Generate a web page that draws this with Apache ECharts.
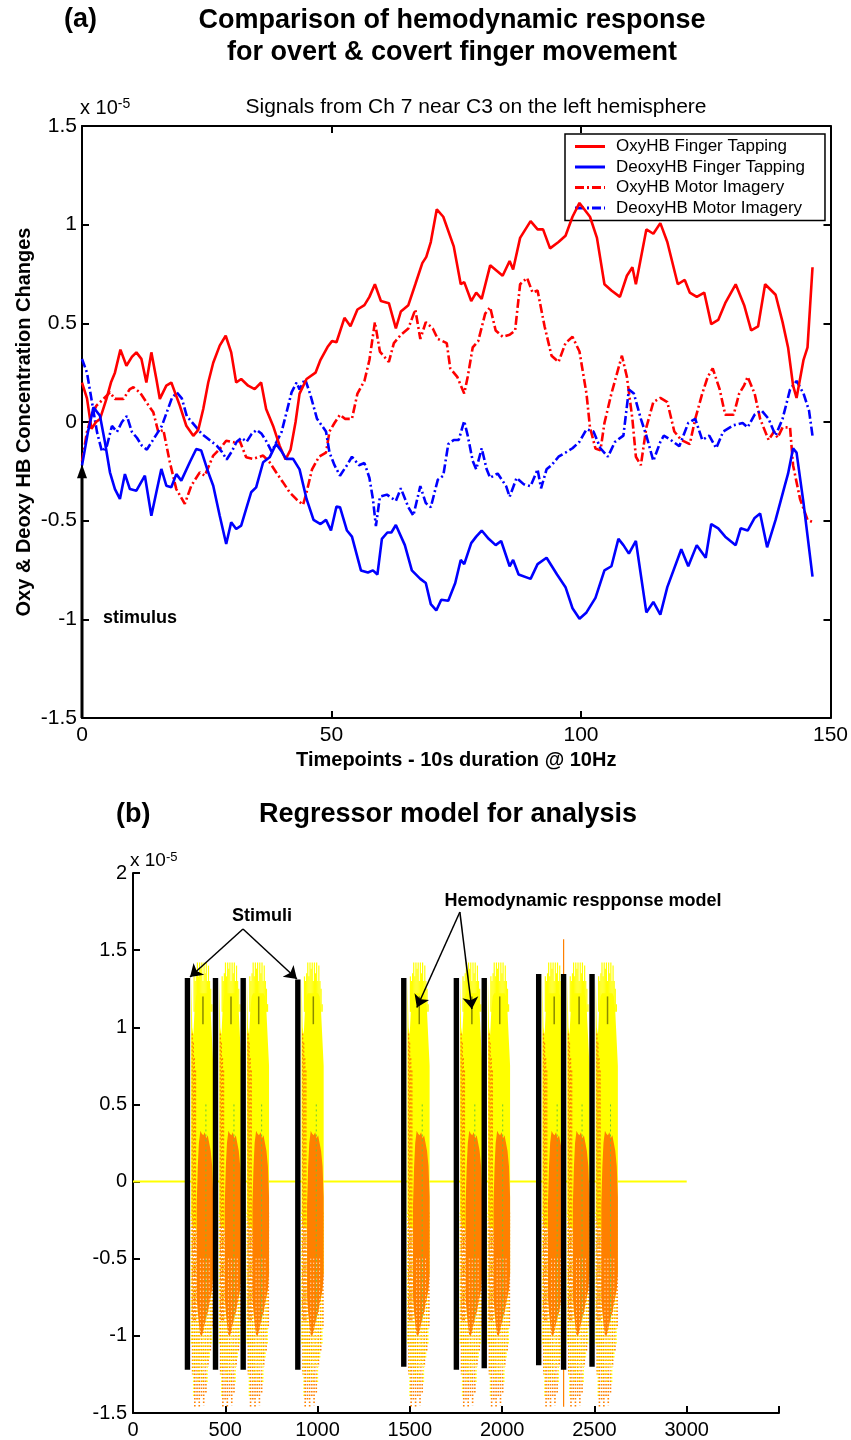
<!DOCTYPE html>
<html>
<head>
<meta charset="utf-8">
<title>Hemodynamic response</title>
<script src="https://cdn.jsdelivr.net/npm/echarts@6.0.0/dist/echarts.min.js"></script>
<style>
html, body { margin: 0; padding: 0; background: #fff; }
#chart { width: 851px; height: 1440px; }
</style>
</head>
<body>
<div id="chart"></div>
<script>
// ---- panel (a): signals from Ch 7, values x 1e-5, [timepoint, value]
const seriesNames = ['OxyHB Finger Tapping', 'DeoxyHB Finger Tapping', 'OxyHB Motor Imagery', 'DeoxyHB Motor Imagery'];

const oxyTapping = [[0,0.2],[0.4,0.2],[1,0.12],[1.9,-0.035],[2.8,0.0],[3.6,0.015],[4.9,0.117],[5.8,0.2],[6.6,0.25],[7.7,0.367],[8.9,0.285],[10,0.33],[10.9,0.353],[11.9,0.32],[12.9,0.2],[13.9,0.353],[14.9,0.218],[15.6,0.117],[16.9,0.184],[17.9,0.2],[19.6,0.083],[20.9,-0.019],[22.3,-0.07],[23.3,-0.04],[24.3,0.066],[25.3,0.2],[26.3,0.3],[27.6,0.387],[28.8,0.437],[29.9,0.353],[30.9,0.2],[31.9,0.218],[33.3,0.184],[34.6,0.167],[35.9,0.2],[36.9,0.066],[38.3,-0.02],[39.6,-0.12],[40.8,-0.19],[41.8,-0.14],[42.8,0.0],[43.6,0.144],[45.0,0.218],[46.8,0.25],[47.8,0.315],[49.2,0.38],[50.1,0.41],[51.0,0.404],[52.6,0.528],[53.8,0.485],[55.2,0.57],[56.6,0.592],[57.6,0.634],[58.7,0.698],[59.9,0.613],[61.5,0.602],[62.9,0.474],[63.9,0.56],[65.4,0.592],[66.8,0.698],[68.2,0.805],[69.0,0.837],[69.9,0.912],[71.1,1.078],[72.4,1.04],[74.5,0.89],[75.9,0.698],[76.6,0.709],[78.0,0.613],[79.0,0.656],[80.1,0.624],[81.8,0.794],[84.3,0.741],[85.7,0.816],[86.4,0.773],[87.8,0.933],[89.9,1.018],[91.3,0.976],[92.4,0.976],[93.8,0.88],[95.5,0.912],[96.9,0.944],[98.3,1.04],[99.7,1.11],[101.8,1.04],[103.2,0.933],[104.7,0.698],[106.1,0.666],[107.8,0.634],[109.2,0.741],[110.3,0.784],[111.0,0.698],[113.1,0.976],[114.5,0.954],[115.9,1.008],[117.3,0.912],[119.4,0.698],[120.8,0.72],[121.8,0.656],[123.2,0.634],[124.7,0.656],[126.1,0.496],[127.5,0.517],[128.9,0.602],[131.0,0.698],[132.7,0.592],[134.1,0.464],[135.5,0.485],[136.9,0.698],[139.0,0.645],[140.4,0.506],[141.5,0.378],[142.5,0.186],[143.2,0.122],[144.6,0.315],[145.4,0.378],[146.4,0.784]];

const deoxyTapping = [[0,-0.22],[0.3,-0.22],[1.2,-0.05],[2.3,0.074],[3.6,0.032],[4.6,-0.103],[5.6,-0.255],[6.6,-0.34],[7.6,-0.39],[8.6,-0.264],[9.6,-0.34],[10.9,-0.348],[12.6,-0.272],[13.9,-0.475],[14.9,-0.356],[15.9,-0.238],[16.9,-0.323],[17.9,-0.331],[18.9,-0.264],[19.9,-0.297],[21.6,-0.204],[22.9,-0.137],[23.9,-0.145],[25.3,-0.255],[26.3,-0.323],[27.6,-0.475],[28.9,-0.618],[29.9,-0.508],[30.9,-0.542],[31.9,-0.525],[32.9,-0.44],[33.9,-0.356],[34.9,-0.331],[36.3,-0.204],[37.6,-0.179],[38.9,-0.111],[39.9,-0.145],[40.9,-0.187],[42.3,-0.187],[43.6,-0.24],[45.0,-0.39],[46.4,-0.496],[47.8,-0.517],[48.9,-0.496],[49.9,-0.55],[51.0,-0.428],[51.7,-0.432],[53.1,-0.55],[54.1,-0.581],[55.9,-0.752],[57.3,-0.763],[58.3,-0.752],[59.2,-0.773],[60.1,-0.592],[61.2,-0.56],[62.0,-0.56],[62.9,-0.522],[64.7,-0.624],[66.1,-0.752],[67.8,-0.795],[68.9,-0.816],[69.9,-0.923],[71.0,-0.955],[72.0,-0.901],[73.4,-0.906],[74.8,-0.816],[75.9,-0.699],[76.6,-0.72],[78.0,-0.614],[79.0,-0.581],[80.1,-0.55],[81.5,-0.592],[82.9,-0.624],[84.0,-0.603],[85.7,-0.731],[86.4,-0.699],[87.5,-0.773],[89.9,-0.795],[91.3,-0.72],[93.1,-0.688],[95.2,-0.773],[96.9,-0.837],[98.3,-0.944],[99.7,-0.997],[101.1,-0.965],[102.9,-0.891],[104.7,-0.752],[106.1,-0.731],[107.5,-0.592],[108.5,-0.624],[109.6,-0.667],[111.0,-0.603],[113.1,-0.965],[114.5,-0.912],[115.9,-0.976],[117.3,-0.837],[120.1,-0.645],[121.5,-0.731],[123.2,-0.624],[125.0,-0.688],[126.1,-0.517],[127.5,-0.539],[128.9,-0.581],[131.0,-0.624],[132.0,-0.539],[133.4,-0.55],[134.8,-0.486],[135.9,-0.464],[137.3,-0.635],[139.0,-0.496],[140.8,-0.326],[141.5,-0.262],[142.5,-0.134],[143.2,-0.155],[144.6,-0.411],[146.4,-0.784]];

const oxyImagery = [[0,-0.2],[1,-0.05],[1.9,0.032],[2.9,0.083],[4.3,0.117],[5.6,0.15],[6.6,0.117],[8.3,0.117],[9.6,0.167],[10.3,0.176],[11.6,0.15],[12.9,0.1],[14.3,0.049],[15.3,-0.052],[16.3,-0.04],[17.6,-0.204],[18.9,-0.34],[20.6,-0.415],[21.9,-0.323],[23.6,-0.255],[24.6,-0.272],[26.3,-0.17],[27.6,-0.137],[28.9,-0.095],[30.3,-0.103],[31.6,-0.095],[32.9,-0.179],[34.3,-0.187],[36.3,-0.17],[37.6,-0.204],[38.9,-0.255],[40.3,-0.306],[41.6,-0.356],[42.9,-0.39],[44.3,-0.42],[45.0,-0.357],[46.1,-0.24],[47.5,-0.176],[48.9,-0.155],[49.6,-0.048],[50.6,-0.005],[51.7,0.037],[52.7,0.016],[54.1,0.016],[55.2,0.144],[56.6,0.208],[57.6,0.314],[58.7,0.506],[59.7,0.357],[61.5,0.304],[62.5,0.4],[63.9,0.442],[65.4,0.474],[66.8,0.57],[67.8,0.421],[68.9,0.506],[70.3,0.474],[71.3,0.421],[73.1,0.4],[73.8,0.272],[75.2,0.229],[76.6,0.144],[77.3,0.229],[78.3,0.378],[79.4,0.41],[80.8,0.549],[81.8,0.581],[82.9,0.464],[84.3,0.432],[85.7,0.442],[86.8,0.464],[87.8,0.698],[89.2,0.73],[90.3,0.656],[91.3,0.666],[92.7,0.485],[94.1,0.336],[95.5,0.304],[96.9,0.4],[98.3,0.432],[99.7,0.357],[101.1,0.144],[101.8,-0.027],[102.9,-0.134],[103.9,-0.144],[104.7,-0.005],[106.1,0.144],[108.2,0.336],[109.2,0.229],[110.3,0.016],[111.0,-0.176],[112.0,-0.219],[113.1,-0.027],[114.5,0.101],[115.9,0.122],[117.3,0.101],[118.7,-0.048],[120.1,-0.091],[121.8,-0.112],[122.9,0.016],[124.3,0.144],[125.4,0.229],[126.4,0.272],[127.8,0.165],[128.9,0.037],[130.6,0.037],[131.7,0.144],[132.7,0.186],[133.4,0.229],[134.8,0.144],[135.9,0.016],[137.6,-0.091],[138.7,-0.048],[139.4,-0.08],[140.4,-0.027],[141.9,-0.027],[142.5,-0.219],[143.9,-0.39],[145.4,-0.496],[146.4,-0.507]];

const deoxyImagery = [[0,0.32],[1,0.25],[2,0.1],[3,-0.05],[4,-0.15],[5,-0.12],[6,-0.02],[7,-0.05],[8,0.0],[9,0.03],[10,-0.05],[11,-0.08],[12,-0.12],[13,-0.14],[14,-0.1],[15,-0.06],[16,-0.02],[17,0.05],[18,0.12],[19,0.15],[20,0.12],[21,0.03],[22,0.0],[23,-0.03],[24,-0.06],[25,-0.08],[26,-0.1],[27,-0.12],[28,-0.15],[29,-0.19],[30,-0.15],[31,-0.1],[32,-0.08],[33,-0.1],[34,-0.06],[35,-0.04],[36,-0.06],[37,-0.1],[38,-0.15],[39,-0.1],[40,-0.05],[41,0.05],[42,0.15],[43,0.2],[43.6,0.165],[44.7,0.218],[45.7,0.144],[47.1,0.016],[48.9,-0.048],[49.6,-0.155],[50.6,-0.219],[51.7,-0.272],[53.1,-0.219],[54.1,-0.176],[55.5,-0.219],[56.6,-0.208],[57.6,-0.283],[58.3,-0.39],[58.9,-0.528],[59.7,-0.379],[61.1,-0.368],[62.9,-0.4],[63.9,-0.336],[65.4,-0.432],[66.4,-0.475],[67.8,-0.325],[68.9,-0.411],[69.9,-0.432],[71.3,-0.293],[72.4,-0.272],[73.4,-0.112],[74.5,-0.091],[75.5,-0.091],[76.6,0.005],[77.3,-0.069],[78.3,-0.197],[79.0,-0.24],[80.1,-0.133],[81.1,-0.24],[81.8,-0.283],[83.3,-0.261],[85.0,-0.325],[85.7,-0.379],[87.1,-0.283],[88.5,-0.315],[89.9,-0.325],[91.3,-0.24],[92.0,-0.336],[93.1,-0.24],[94.1,-0.219],[95.5,-0.176],[96.9,-0.155],[98.3,-0.133],[99.7,-0.1],[101.1,-0.037],[102.5,-0.048],[103.9,-0.133],[105.4,-0.176],[106.8,-0.101],[108.5,-0.069],[109.6,0.165],[110.6,0.144],[112.0,0.016],[113.1,-0.069],[114.5,-0.197],[115.9,-0.101],[116.6,-0.069],[118.0,-0.091],[119.7,-0.123],[121.5,-0.005],[122.9,0.016],[124.3,-0.091],[125.7,-0.069],[127.1,-0.133],[128.5,-0.048],[130.6,-0.016],[132.4,-0.005],[133.4,-0.027],[134.8,0.037],[136.2,0.058],[137.6,0.016],[139.0,-0.069],[140.4,0.016],[141.9,0.165],[143.2,0.208],[144.6,0.144],[145.7,0.058],[146.4,-0.07]];

const stimulusArrow = [[0, -1.5], [0, -0.25]];

// ---- panel (b): regressor model
const stimOnsets = [295, 447, 597, 893, 1467, 1752, 1903, 2198, 2333, 2487];
const stimTops = [1.32, 1.32, 1.32, 1.31, 1.32, 1.32, 1.32, 1.345, 1.345, 1.345];
const stimBottoms = [-1.22, -1.22, -1.22, -1.22, -1.2, -1.22, -1.21, -1.19, -1.22, -1.2];
const baselineX = [0, 3000];

// response shape after each onset (offset from onset, value x 1e-5)
const hrfBodyOffsets = [20, 26, 32, 38, 46, 54, 62, 70, 78, 86, 94, 102, 110, 118, 126, 134, 140];
const hrfBodyTop = [1.32, 1.0, 0.95, 1.1, 1.2, 1.22, 1.22, 1.22, 1.22, 1.22, 1.22, 1.22, 1.22, 1.2, 1.1, 0.9, 0.75];
const hrfBodyBottom = [-0.2, -0.25, -0.3, -0.3, -0.3, -0.35, -0.4, -0.45, -0.5, -0.55, -0.6, -0.6, -0.6, -0.6, -0.6, -0.6, -0.6];
const hrfSpikeOffsets = [36, 42, 48, 54, 60, 66, 72, 78, 84, 90, 96, 102, 108, 114, 120, 126, 132];
const hrfSpikeTops = [1.33, 1.3, 1.35, 1.42, 1.33, 1.42, 1.38, 1.42, 1.3, 1.42, 1.35, 1.42, 1.3, 1.4, 1.3, 1.25, 1.15];
const hrfOrangeOffsets = [50, 56, 62, 70, 78, 86, 94, 102, 110, 118, 126, 134, 140];
const hrfOrangeTop = [-0.15, 0.1, 0.25, 0.33, 0.31, 0.3, 0.32, 0.28, 0.3, 0.25, 0.2, 0.1, -0.1];
const hrfOrangeBottom = [-0.75, -0.85, -0.92, -1.0, -1.0, -0.97, -0.92, -0.88, -0.85, -0.8, -0.75, -0.7, -0.6];
const hrfOrangeDotOffsets = [26, 32, 38, 44];
const hrfOrangeDotTops = [0.96, 0.9, 0.8, 0.72];
const hrfSpeckleOffsets = [22, 28, 34, 40, 46, 52, 58, 64, 70, 76, 82, 88, 94, 100, 106, 112, 118, 124, 130, 136];
const hrfSpeckleBottoms = [-1.05, -1.25, -1.4, -1.46, -1.2, -1.42, -1.3, -1.46, -1.25, -1.4, -1.3, -1.45, -1.2, -1.38, -1.3, -1.2, -1.15, -1.1, -1.05, -0.95];
const extraSpike = [[2333, -1.46], [2333, 1.57]];

const stimuliArrows = [[[596, 1.637], [309, 1.326]], [[596, 1.637], [888, 1.313]]];
const modelArrows = [[[1771, 1.747], [1538, 1.128]], [[1771, 1.747], [1836, 1.118]]];

const FONT = '"Liberation Sans", Arial, Helvetica, sans-serif';
const chart = echarts.init(document.getElementById('chart'));

const solidIcon = 'path://M0,0H30V3H0Z';
const dashDotIcon = 'path://M0,0H9V3H0Z M12,0H14V3H12Z M17,0H26V3H17Z M29,0H30V3H29Z';

function valueAxis(extra) {
  return Object.assign({
    type: 'value',
    axisLine: { show: true, onZero: false, lineStyle: { color: '#000', width: 2 } },
    axisTick: { show: true, inside: true, length: 7, lineStyle: { color: '#000', width: 2 } },
    axisLabel: { color: '#000', fontSize: 21, fontFamily: FONT },
    splitLine: { show: false }
  }, extra);
}

function seg(children, a, b, style) {
  children.push({ type: 'line', shape: { x1: a[0], y1: a[1], x2: b[0], y2: b[1] }, style: style });
}

function hrfRender(params, api) {
  const onset = api.value(0);
  const c = (off, v) => api.coord([onset + off, v]);
  const children = [];
  // speckled lower tails (under everything)
  hrfSpeckleOffsets.forEach((o, i) => {
    seg(children, c(o, -0.2), c(o, hrfSpeckleBottoms[i]),
      { stroke: i % 2 ? '#ff8000' : '#ffff00', lineWidth: 1.6, lineDash: [1.5, 2] });
  });
  // yellow body
  const body = [];
  hrfBodyOffsets.forEach((o, i) => body.push(c(o, hrfBodyTop[i])));
  for (let i = hrfBodyOffsets.length - 1; i >= 0; i--) body.push(c(hrfBodyOffsets[i], hrfBodyBottom[i]));
  children.push({ type: 'polygon', shape: { points: body }, style: { fill: '#ffff00' } });
  // thin spikes on top
  hrfSpikeOffsets.forEach((o, i) => {
    seg(children, c(o, 1.1), c(o, hrfSpikeTops[i]), { stroke: '#ffff00', lineWidth: 1.2 });
  });
  // dotted orange near the onset
  hrfOrangeDotOffsets.forEach((o, i) => {
    seg(children, c(o, hrfOrangeDotTops[i]), c(o, -0.9), { stroke: '#ff8000', lineWidth: 1.2, lineDash: [2, 2] });
  });
  // orange core
  const core = [];
  hrfOrangeOffsets.forEach((o, i) => core.push(c(o, hrfOrangeTop[i])));
  for (let i = hrfOrangeOffsets.length - 1; i >= 0; i--) core.push(c(hrfOrangeOffsets[i], hrfOrangeBottom[i]));
  children.push({ type: 'polygon', shape: { points: core }, style: { fill: '#ff8000' } });
  // lighter speckles inside lower core
  [70, 86, 102, 118].forEach(o => {
    seg(children, c(o, -0.5), c(o, -1.25), { stroke: '#ffffff', lineWidth: 1, lineDash: [1, 3] });
  });
  // small olive marks
  seg(children, c(84, 1.2), c(84, 1.02), { stroke: '#8a8a00', lineWidth: 1.5 });
  seg(children, c(100, 0.5), c(100, -0.9), { stroke: '#66cc33', lineWidth: 1, lineDash: [2, 3] });
  return { type: 'group', children: children };
}

function stimRender(params, api) {
  const top = api.coord([api.value(0), api.value(2)]);
  const bot = api.coord([api.value(0), api.value(1)]);
  return { type: 'rect', shape: { x: top[0] - 2.7, y: top[1], width: 5.4, height: bot[1] - top[1] }, style: { fill: '#000' } };
}

const dashDot = [9, 3, 2, 3];

const option = {
  animation: false,
  backgroundColor: '#fff',
  textStyle: { fontFamily: FONT },
  grid: [
    { left: 82, right: 19, top: 126, bottom: 722 },
    { left: 133, right: 72, top: 873, bottom: 26 }
  ],
  legend: {
    data: [
      { name: seriesNames[0], icon: solidIcon },
      { name: seriesNames[1], icon: solidIcon },
      { name: seriesNames[2], icon: dashDotIcon },
      { name: seriesNames[3], icon: dashDotIcon }
    ],
    orient: 'vertical',
    left: 565, top: 134,
    itemWidth: 30, itemHeight: 3, itemGap: 3.5,
    padding: [4, 20, 4, 10],
    borderColor: '#000', borderWidth: 1.5, backgroundColor: '#fff',
    textStyle: { fontSize: 17, color: '#000', fontFamily: FONT, lineHeight: 17, padding: [0, 0, 0, 6] }
  },
  xAxis: [
    valueAxis({ gridIndex: 0, min: 0, max: 150, interval: 50, position: 'bottom',
      axisLabel: { color: '#000', fontSize: 21, fontFamily: FONT, margin: 7 },
      name: 'Timepoints - 10s duration @ 10Hz', nameLocation: 'middle', nameGap: 32,
      nameTextStyle: { color: '#000', fontSize: 20, fontWeight: 'bold', fontFamily: FONT } }),
    valueAxis({ gridIndex: 0, min: 0, max: 150, interval: 50, position: 'top', axisLabel: { show: false } }),
    valueAxis({ gridIndex: 1, min: 0, max: 3500, interval: 500, position: 'bottom',
      axisLabel: { color: '#000', fontSize: 20, fontFamily: FONT, margin: 7, formatter: v => (v === 3500 ? '' : String(v)) } })
  ],
  yAxis: [
    valueAxis({ gridIndex: 0, min: -1.5, max: 1.5, interval: 0.5, position: 'left',
      axisLabel: { color: '#000', fontSize: 21, fontFamily: FONT, margin: 5 },
      name: 'Oxy & Deoxy HB Concentration Changes', nameLocation: 'middle', nameGap: 48, nameMoveOverlap: false,
      nameTextStyle: { color: '#000', fontSize: 20, fontWeight: 'bold', fontFamily: FONT } }),
    valueAxis({ gridIndex: 0, min: -1.5, max: 1.5, interval: 0.5, position: 'right', axisLabel: { show: false } }),
    valueAxis({ gridIndex: 1, min: -1.5, max: 2, interval: 0.5, position: 'left',
      axisLabel: { color: '#000', fontSize: 20, fontFamily: FONT, margin: 6 } })
  ],
  series: [
    { name: seriesNames[0], type: 'line', xAxisIndex: 0, yAxisIndex: 0, data: oxyTapping, symbol: 'none', z: 4,
      lineStyle: { color: '#ff0000', width: 2.6 }, itemStyle: { color: '#ff0000' } },
    { name: seriesNames[1], type: 'line', xAxisIndex: 0, yAxisIndex: 0, data: deoxyTapping, symbol: 'none', z: 4,
      lineStyle: { color: '#0000ff', width: 2.6 }, itemStyle: { color: '#0000ff' } },
    { name: seriesNames[2], type: 'line', xAxisIndex: 0, yAxisIndex: 0, data: oxyImagery, symbol: 'none', z: 3,
      lineStyle: { color: '#ff0000', width: 2.6, type: dashDot }, itemStyle: { color: '#ff0000' } },
    { name: seriesNames[3], type: 'line', xAxisIndex: 0, yAxisIndex: 0, data: deoxyImagery, symbol: 'none', z: 3,
      lineStyle: { color: '#0000ff', width: 2.6, type: dashDot }, itemStyle: { color: '#0000ff' } },
    { type: 'line', xAxisIndex: 0, yAxisIndex: 0, silent: true, z: 6, showSymbol: true, symbol: 'none',
      data: [stimulusArrow[0], { value: stimulusArrow[1], symbol: 'triangle', symbolSize: [10, 14] }],
      lineStyle: { color: '#000', width: 3 }, itemStyle: { color: '#000' } },

    { type: 'line', xAxisIndex: 2, yAxisIndex: 2, silent: true, symbol: 'none', z: 1,
      data: baselineX.map(x => [x, 0]), lineStyle: { color: '#ffff00', width: 2 } },
    { type: 'custom', xAxisIndex: 2, yAxisIndex: 2, silent: true, z: 2,
      data: stimOnsets.map(x => [x]), renderItem: hrfRender },
    { type: 'line', xAxisIndex: 2, yAxisIndex: 2, silent: true, symbol: 'none', z: 3,
      data: extraSpike, lineStyle: { color: '#ff8000', width: 1.2 } },
    { type: 'custom', xAxisIndex: 2, yAxisIndex: 2, silent: true, z: 4,
      data: stimOnsets.map((x, i) => [x, stimBottoms[i], stimTops[i]]), renderItem: stimRender },
    { type: 'lines', coordinateSystem: 'cartesian2d', xAxisIndex: 2, yAxisIndex: 2, silent: true, z: 5,
      symbol: ['none', 'arrow'], symbolSize: 12,
      lineStyle: { color: '#000', width: 1.5, opacity: 1 },
      data: stimuliArrows.concat(modelArrows).map(p => ({ coords: p })) }
  ],
  graphic: [
    { type: 'text', x: 64, y: 20, style: { text: '(a)', font: 'bold 27px ' + FONT, fill: '#000', textVerticalAlign: 'middle' } },
    { type: 'text', x: 452, y: 21, style: { text: 'Comparison of hemodynamic response', font: 'bold 27px ' + FONT, fill: '#000', textAlign: 'center', textVerticalAlign: 'middle' } },
    { type: 'text', x: 452, y: 53, style: { text: 'for overt & covert finger movement', font: 'bold 27px ' + FONT, fill: '#000', textAlign: 'center', textVerticalAlign: 'middle' } },
    { type: 'text', x: 476, y: 107, style: { text: 'Signals from Ch 7 near C3 on the left hemisphere', font: '21px ' + FONT, fill: '#000', textAlign: 'center', textVerticalAlign: 'middle' } },
    { type: 'text', x: 80, y: 104, style: { text: '{a|x 10}{b|-5}', fill: '#000', textVerticalAlign: 'middle',
      rich: { a: { fontSize: 20, fontFamily: FONT, padding: [8, 0, 0, 0] }, b: { fontSize: 14, fontFamily: FONT } } } },
    { type: 'text', x: 103, y: 618, style: { text: 'stimulus', font: 'bold 18px ' + FONT, fill: '#000', textVerticalAlign: 'middle' } },
    { type: 'text', x: 116, y: 815, style: { text: '(b)', font: 'bold 27px ' + FONT, fill: '#000', textVerticalAlign: 'middle' } },
    { type: 'text', x: 448, y: 815, style: { text: 'Regressor model for analysis', font: 'bold 27px ' + FONT, fill: '#000', textAlign: 'center', textVerticalAlign: 'middle' } },
    { type: 'text', x: 130, y: 857, style: { text: '{a|x 10}{b|-5}', fill: '#000', textVerticalAlign: 'middle',
      rich: { a: { fontSize: 19, fontFamily: FONT, padding: [8, 0, 0, 0] }, b: { fontSize: 13, fontFamily: FONT } } } },
    { type: 'text', x: 262, y: 916, style: { text: 'Stimuli', font: 'bold 18px ' + FONT, fill: '#000', textAlign: 'center', textVerticalAlign: 'middle' } },
    { type: 'text', x: 583, y: 901, style: { text: 'Hemodynamic respponse model', font: 'bold 18px ' + FONT, fill: '#000', textAlign: 'center', textVerticalAlign: 'middle' } }
  ]
};

chart.setOption(option);
</script>
</body>
</html>
